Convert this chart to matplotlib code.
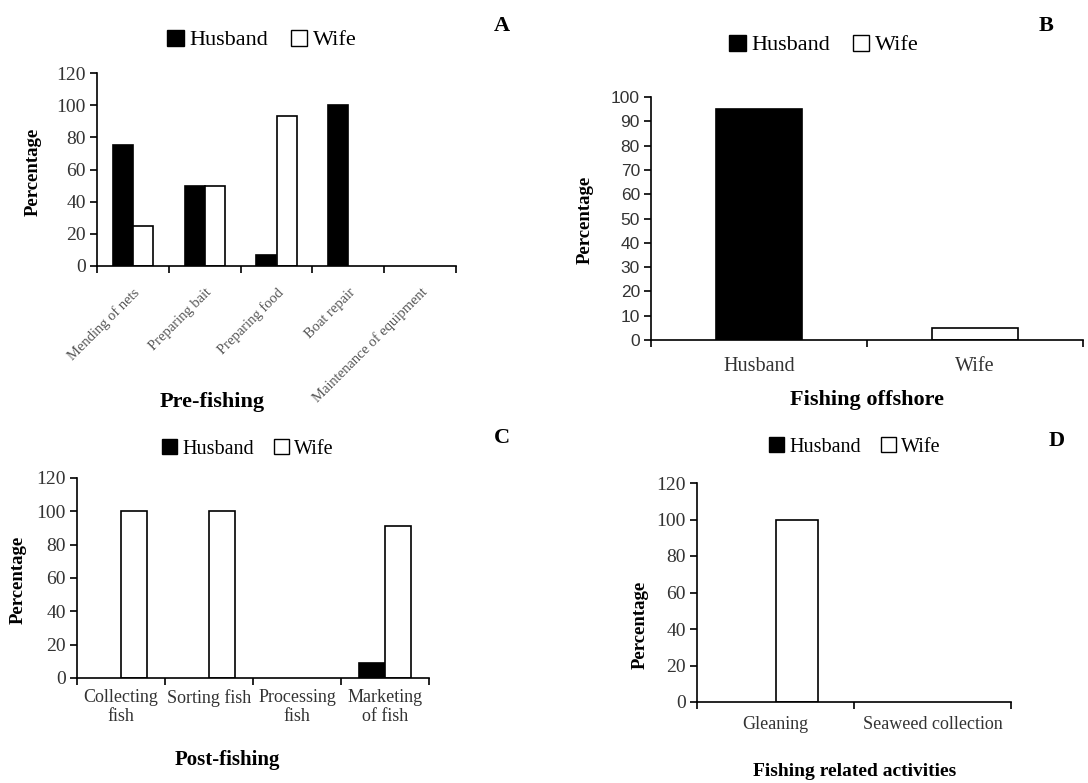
import matplotlib
matplotlib.use('Agg')
import matplotlib.pyplot as plt
from matplotlib.patches import Patch
import numpy as np

plt.rcParams['font.family'] = 'Liberation Serif'

# ---- data ----
pre_cats = ['Mending of nets', 'Preparing bait', 'Preparing food', 'Boat repair',
            'Maintenance of equipment']
pre_husband = [75, 50, 7, 100, 0]
pre_wife = [25, 50, 93, 0, 0]

off_cats = ['Husband', 'Wife']
off_values = [95, 5]

post_cats = ['Collecting\nfish', 'Sorting fish', 'Processing\nfish', 'Marketing\nof fish']
post_husband = [0, 0, 0, 9]
post_wife = [100, 100, 0, 91]

rel_cats = ['Gleaning', 'Seaweed collection']
rel_husband = [0, 0]
rel_wife = [100, 0]

W, H = 1088, 783
fig = plt.figure(figsize=(W / 100, H / 100), dpi=100)


def box(x0, y0, x1, y1):
    return [x0 / W, 1 - y1 / H, (x1 - x0) / W, (y1 - y0) / H]


def style_axes(ax, n, ymax, step, tickfont=None, tsize=14):
    for s in ['top', 'right']:
        ax.spines[s].set_visible(False)
    for s in ['left', 'bottom']:
        ax.spines[s].set_linewidth(1.2)
    ax.set_xlim(-0.5, n - 0.5)
    ax.set_ylim(0, ymax)
    ax.set_yticks(np.arange(0, ymax + 1, step))
    ax.set_xticks(np.arange(-0.5, n, 1.0), minor=True)
    ax.tick_params(axis='x', which='major', length=0)
    ax.tick_params(axis='x', which='minor', length=5, width=1.2, direction='out')
    ax.tick_params(axis='y', length=5, width=1.2, direction='out', labelsize=tsize,
                   labelcolor='#333333', pad=3)
    if tickfont:
        for t in ax.get_yticklabels():
            t.set_fontfamily(tickfont)


def legend(fx, fy, size):
    handles = [Patch(facecolor='black', edgecolor='black', linewidth=1),
               Patch(facecolor='white', edgecolor='black', linewidth=1)]
    fig.legend(handles, ['Husband', 'Wife'], loc='center',
               bbox_to_anchor=(fx / W, 1 - fy / H), ncol=2, frameon=False,
               fontsize=size, handlelength=0.75, handleheight=0.75,
               handletextpad=0.25, columnspacing=1.0, borderpad=0)


def ftext(x, y, s, size, **kw):
    fig.text(x / W, 1 - y / H, s, fontsize=size, ha='center', va='center', **kw)


def bars(ax, pos, vals, w, color):
    # zero-height bars leave no outline on the axis
    lw = [1.2 if v > 0 else 0 for v in vals]
    ax.bar(pos, vals, w, color=color, edgecolor='black', linewidth=lw)


# ---- A: pre-fishing ----
axA = fig.add_axes(box(97, 73, 456, 266))
x = np.arange(len(pre_cats))
w = 0.28
bars(axA, x - w / 2, pre_husband, w, 'black')
bars(axA, x + w / 2, pre_wife, w, 'white')
style_axes(axA, len(pre_cats), 120, 20)
axA.set_xticks(x)
axA.set_xticklabels(pre_cats, rotation=45, ha='right', rotation_mode='anchor',
                    fontsize=10.5, color='#555555')
axA.tick_params(axis='x', which='major', pad=14)
ftext(33, 172, 'Percentage', 13.5, rotation=90, fontweight='bold')
ftext(212, 402, 'Pre-fishing', 16, fontweight='bold')
legend(262, 40, 16)
ftext(502, 26, 'A', 16, fontweight='bold')

# ---- B: fishing offshore ----
axB = fig.add_axes(box(651, 97, 1083, 340))
xb = np.arange(len(off_cats))
bars(axB, xb, off_values, 0.4, ['black', 'white'])
style_axes(axB, len(off_cats), 100, 10, tickfont='Liberation Sans', tsize=12.5)
axB.set_xticks(xb)
axB.set_xticklabels(off_cats, fontsize=14.5, color='#333333')
axB.tick_params(axis='x', which='major', pad=12)
ftext(585, 220, 'Percentage', 13.5, rotation=90, fontweight='bold')
ftext(867, 400, 'Fishing offshore', 16, fontweight='bold')
legend(824, 45, 16)
ftext(1046, 26, 'B', 16, fontweight='bold')

# ---- C: post-fishing ----
axC = fig.add_axes(box(77, 478, 429, 678))
xc = np.arange(len(post_cats))
w = 0.3
bars(axC, xc - w / 2, post_husband, w, 'black')
bars(axC, xc + w / 2, post_wife, w, 'white')
style_axes(axC, len(post_cats), 120, 20)
axC.set_xticks(xc)
axC.set_xticklabels(post_cats, fontsize=13, color='#333333', linespacing=1.15)
axC.tick_params(axis='x', which='major', pad=8)
ftext(18, 580, 'Percentage', 13.5, rotation=90, fontweight='bold')
ftext(227, 760, 'Post-fishing', 15, fontweight='bold')
legend(248, 449, 14.5)
ftext(502, 438, 'C', 16, fontweight='bold')

# ---- D: fishing related activities ----
axD = fig.add_axes(box(697, 483, 1011, 702))
xd = np.arange(len(rel_cats))
w = 0.27
bars(axD, xd - w / 2, rel_husband, w, 'black')
bars(axD, xd + w / 2, rel_wife, w, 'white')
style_axes(axD, len(rel_cats), 120, 20)
axD.set_xticks(xd)
axD.set_xticklabels(rel_cats, fontsize=13, color='#333333')
axD.tick_params(axis='x', which='major', pad=10)
ftext(640, 625, 'Percentage', 13.5, rotation=90, fontweight='bold')
ftext(855, 771, 'Fishing related activities', 14, fontweight='bold')
legend(855, 447, 14.5)
ftext(1057, 441, 'D', 16, fontweight='bold')

fig.savefig('out.png', dpi=100)
plt.close(fig)
